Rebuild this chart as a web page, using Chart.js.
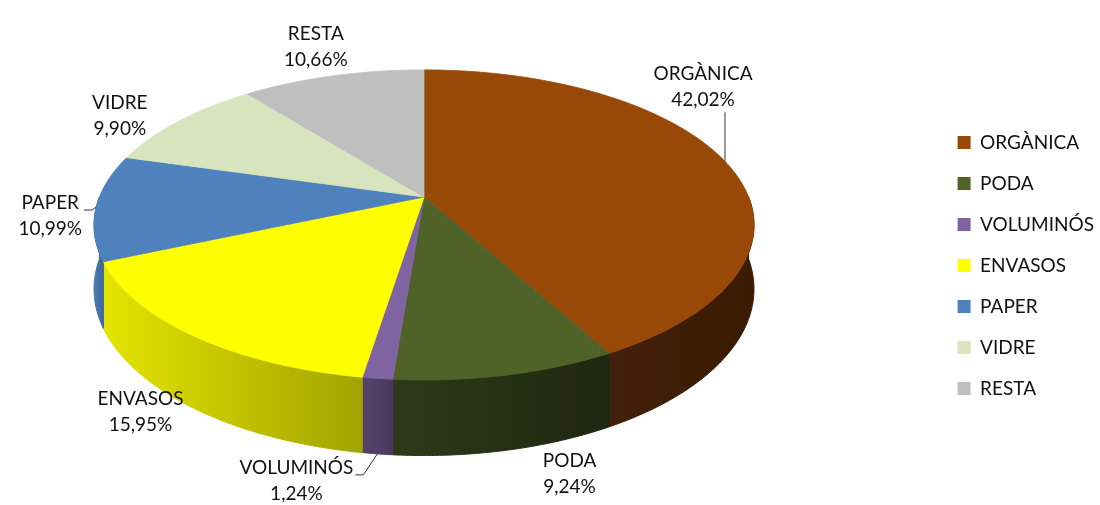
<!doctype html>
<html lang="ca">
  <head>
    <meta charset="utf-8">
    <title>Residus</title>
    <script src="https://cdn.jsdelivr.net/npm/chart.js"></script>
    <style>
      body { margin: 0; background: #fff; }
      canvas { display: block; }
    </style>
  </head>
  <body>
    <canvas id="pie-chart" width="1100" height="505"></canvas>

    <script>
        // data
        var categories = ['ORGÀNICA', 'PODA', 'VOLUMINÓS', 'ENVASOS', 'PAPER', 'VIDRE', 'RESTA']
        var shares = [42.02, 9.24, 1.24, 15.95, 10.99, 9.90, 10.66]

        // styles
        var topColors = ['#984807', '#4f6228', '#8064a2', '#ffff00', '#4f81bd', '#d7e4bd', '#bfbfbf']
        var sideColors = [
            ['#42200a', '#3a1a00'],
            ['#2e3a19', '#1e2710'],
            ['#57446e', '#4a395e'],
            ['#e4e400', '#a3a300'],
            ['#4b7ab4', '#3f6698'],
            ['#b8c4a0', '#a0ab8a'],
            ['#a3a3a3', '#8f8f8f']
        ]
        // label nudges from the slice anchor, px
        var labelShift = [[-22, -75], [63, 24], [-81, 27], [-52, 4], [-46, 9], [-59, -5], [-17, -29]]
        var labelLeader = [true, false, true, false, true, false, false]

        // pie view: centre, radii, perspective and thickness
        var view = { cx: 424, cy: 197, rx: 324.6, ry: 150, persp: 0.18, depth: 62 }
        var font = "19px Lato"
        var textColor = '#111'

        function fmt(v) {
            return v.toFixed(2).replace('.', ',') + '%'
        }

        function project(a, drop) {
            var X = Math.cos(a), Z = Math.sin(a)
            var w = 1 - view.persp * Z
            return {
                x: view.cx + view.rx * X / w,
                y: view.cy + view.ry * Z / w + (drop ? view.depth / w : 0)
            }
        }

        function arcPoints(a0, a1, drop) {
            var n = Math.max(2, Math.ceil(Math.abs(a1 - a0) / 0.01))
            var pts = []
            for (var k = 0; k <= n; k++) {
                pts.push(project(a0 + (a1 - a0) * k / n, drop))
            }
            return pts
        }

        var pie3d = {
            id: 'pie3d',
            beforeDatasetsDraw: function (chart) {
                var ctx = chart.ctx
                var arcs = chart.getDatasetMeta(0).data
                ctx.save()

                // outer walls, front half only
                arcs.forEach(function (arc, i) {
                    var lo = Math.max(arc.startAngle, 0)
                    var hi = Math.min(arc.endAngle, Math.PI)
                    if (hi <= lo) return
                    var top = arcPoints(lo, hi, false)
                    var bot = arcPoints(hi, lo, true)
                    var xs = top.map(function (p) { return p.x })
                    var g = ctx.createLinearGradient(Math.min.apply(null, xs), 0, Math.max.apply(null, xs), 0)
                    g.addColorStop(0, sideColors[i][0])
                    g.addColorStop(1, sideColors[i][1])
                    ctx.beginPath()
                    top.concat(bot).forEach(function (p, k) {
                        k ? ctx.lineTo(p.x, p.y) : ctx.moveTo(p.x, p.y)
                    })
                    ctx.closePath()
                    ctx.fillStyle = g
                    ctx.strokeStyle = g
                    ctx.lineWidth = 1
                    ctx.fill()
                    ctx.stroke()
                })

                // top faces
                arcs.forEach(function (arc, i) {
                    var pts = arcPoints(arc.startAngle, arc.endAngle, false)
                    ctx.beginPath()
                    ctx.moveTo(view.cx, view.cy)
                    pts.forEach(function (p) { ctx.lineTo(p.x, p.y) })
                    ctx.closePath()
                    ctx.fillStyle = topColors[i]
                    ctx.strokeStyle = topColors[i]
                    ctx.lineWidth = 0.8
                    ctx.fill()
                    ctx.stroke()
                })

                // data labels
                ctx.font = font
                ctx.fillStyle = textColor
                ctx.strokeStyle = '#333'
                ctx.lineWidth = 1
                ctx.textAlign = 'center'
                ctx.textBaseline = 'middle'
                arcs.forEach(function (arc, i) {
                    var mid = (arc.startAngle + arc.endAngle) / 2
                    var anchor = project(mid, Math.sin(mid) > 0.3)
                    var lx = anchor.x + labelShift[i][0]
                    var ly = anchor.y + labelShift[i][1]
                    var l1 = categories[i], l2 = fmt(shares[i])
                    ctx.fillText(l1, lx, ly - 13)
                    ctx.fillText(l2, lx, ly + 13)
                    if (labelLeader[i]) {
                        var half = Math.max(ctx.measureText(l1).width, ctx.measureText(l2).width) / 2
                        var left = lx - half, right = lx + half
                        ctx.beginPath()
                        if (anchor.x >= left && anchor.x <= right) {
                            ctx.moveTo(anchor.x, ly + 26)
                        } else {
                            var dir = anchor.x > right ? 1 : -1
                            var sx = dir > 0 ? right + 2 : left - 2
                            var by = ly - 13 + 7
                            ctx.moveTo(sx, by)
                            ctx.lineTo(sx + dir * 8, by)
                        }
                        ctx.lineTo(anchor.x, anchor.y)
                        ctx.stroke()
                    }
                })

                ctx.restore()
                return false
            }
        }

        new Chart(document.getElementById('pie-chart'), {
            type: 'pie',
            data: {
                labels: categories,
                datasets: [{
                    data: shares,
                    backgroundColor: topColors,
                    borderWidth: 0
                }]
            },
            options: {
                responsive: false,
                animation: false,
                layout: { padding: { top: 26, right: -4 } },
                plugins: {
                    legend: {
                        position: 'right',
                        labels: {
                            boxWidth: 13,
                            boxHeight: 13,
                            padding: 22,
                            color: textColor,
                            font: { family: 'Lato', size: 19 }
                        }
                    },
                    tooltip: { enabled: false }
                }
            },
            plugins: [pie3d]
        })
    </script>
  </body>
</html>
